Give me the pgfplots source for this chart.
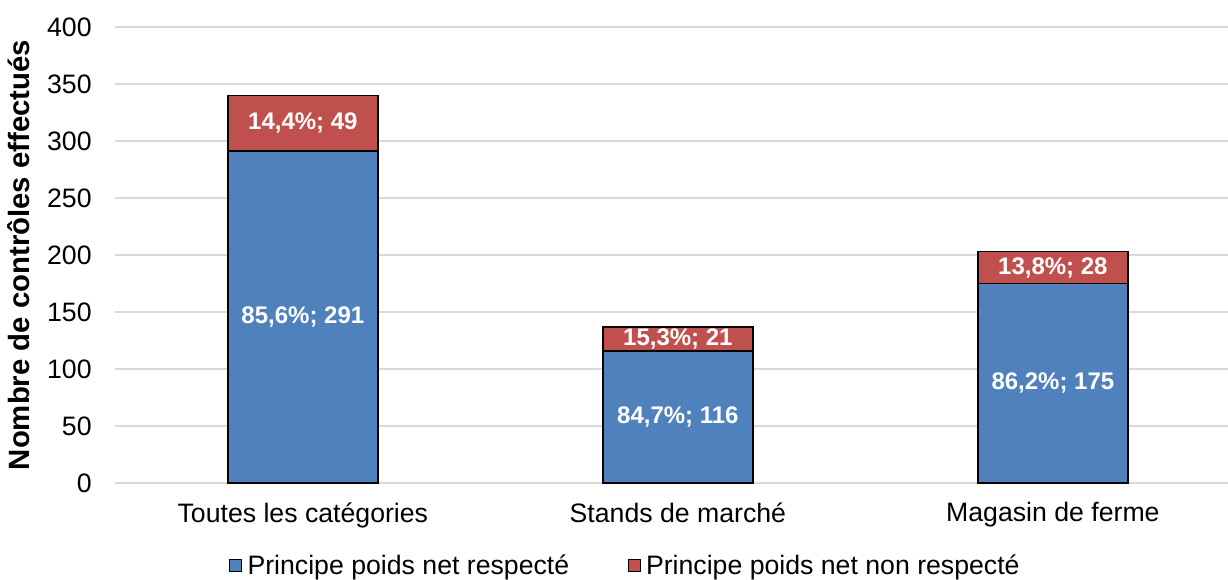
\documentclass[border=0pt]{standalone}
\usepackage{pgfplots}
\usepackage{pgfplotstable}
\pgfplotsset{compat=1.18}
\usepackage{fontspec}
\setmainfont{Liberation Sans}
\definecolor{cblue}{HTML}{4F81BD}
\definecolor{cred}{HTML}{C0504D}
\definecolor{cgrid}{HTML}{D9D9D9}
\pgfplotstableread{
x y label
0 291 {85,6\%;\ 291}
1 116 {84,7\%;\ 116}
2 175 {86,2\%;\ 175}
}\tblok
\pgfplotstableread{
x y label
0 49 {14,4\%;\ 49}
1 21 {15,3\%;\ 21}
2 28 {13,8\%;\ 28}
}\tblnok
\begin{document}
\begin{tikzpicture}
\begin{axis}[
  at={(0,0)}, anchor=south west,
  scale only axis, width=834.75pt, height=342pt,
  ybar stacked, bar width=112.5pt,
  xmin=-0.501, xmax=2.467, ymin=0, ymax=400,
  xtick=data, xticklabels={Toutes les catégories, Stands de marché, Magasin de ferme},
  ytick={0,50,...,400},
  /pgf/number format/assume math mode=true,
  tick style={draw=none},
  axis x line*=bottom, axis y line*=left,
  y axis line style={draw=none},
  x axis line style={draw=cgrid, line width=1pt, -},
  ymajorgrids, grid style={cgrid, line width=0.8pt},
  ticklabel style={font=\fontsize{20}{24}\selectfont},
  yticklabel style={xshift=-14pt},
  xticklabel style={yshift=-11pt},
  ylabel={\textbf{Nombre de contrôles effectués}},
  ylabel style={font=\fontsize{22}{26}\selectfont, at={(axis description cs:-0.0862,0.5)}, anchor=center},
  legend columns=2,
  legend style={draw=none, at={(axis description cs:0.459,-0.181)}, anchor=center, font=\fontsize{20}{24}\selectfont,
    /tikz/every odd column/.append style={column sep=2pt},
    /tikz/every even column/.append style={column sep=42pt}},
  legend image code/.code={\draw[#1, draw=black, line width=0.6pt] (0pt,-4.5pt) rectangle (9pt,4.5pt);},
  nodes near coords,
  point meta=explicit symbolic,
  every node near coord/.append style={font=\fontsize{18}{22}\selectfont\bfseries, text=white, anchor=center},
]
\addplot[fill=cblue, draw=black, line width=1.3pt] table[x=x, y=y, meta=label] {\tblok};
\addlegendentry{Principe poids net respecté}
\addplot[fill=cred, draw=black, line width=1.3pt] table[x=x, y=y, meta=label] {\tblnok};
\addlegendentry{Principe poids net non respecté}
\end{axis}
\pgfresetboundingbox
\path[use as bounding box] (-86.25pt,-72pt) rectangle (834.75pt,362.25pt);
\end{tikzpicture}
\end{document}
